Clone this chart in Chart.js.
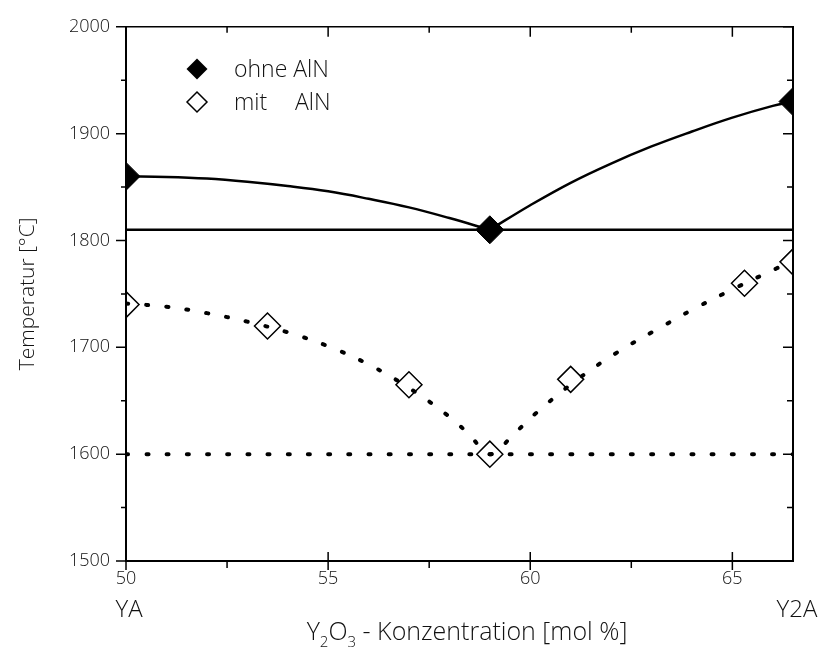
<!DOCTYPE html>
<html>
<head>
<meta charset="utf-8">
<script src="https://cdn.jsdelivr.net/npm/chart.js@4.4.1/dist/chart.umd.min.js"></script>
<style>
  html, body { margin: 0; padding: 0; background: #fff; }
  #wrap { width: 822px; height: 650px; }
</style>
</head>
<body>
<div id="wrap"><canvas id="chart" width="822" height="650"></canvas></div>
<script>
// axis ticks
const xTicks = [50, 55, 60, 65];
const xMinorTicks = [52.5, 57.5, 62.5];
const yTicks = [1500, 1600, 1700, 1800, 1900, 2000];
const yMinorTicks = [1550, 1650, 1750, 1850, 1950];
const xRange = [50, 66.5];
const yRange = [1500, 2000];

// measured points
const ohneX = [50, 59, 66.5];
const ohneY = [1860, 1810, 1930];
const mitX = [50, 53.5, 57, 59, 61, 65.3, 66.5];
const mitY = [1740, 1720, 1665, 1600, 1670, 1760, 1780];

// drawn curves
const ohneLeftX = [50, 51, 52, 53, 54, 55, 56, 57, 58, 59];
const ohneLeftY = [1860, 1859.5, 1858, 1855, 1851, 1846, 1839, 1831, 1821, 1810];
const ohneRightX = [59, 60, 61, 62, 63, 64, 65, 66, 66.5];
const ohneRightY = [1810, 1833, 1854, 1872, 1888, 1902, 1915, 1926, 1930];
const mitCurveX = [50, 51, 52, 53, 54, 55, 56, 57, 58, 58.5, 59, 59.6, 60.1, 61.1, 62.1, 63.1, 64.1, 65.1, 66.1, 66.5];
const mitCurveY = [1741, 1738, 1732, 1724, 1714, 1701, 1684, 1662, 1635, 1618, 1600, 1619, 1637, 1668, 1694, 1716, 1737, 1756, 1774, 1781];

// reference levels
const ohneLevel = 1810;
const mitLevel = 1600;

const FONT = '"Open Sans", "DejaVu Sans", sans-serif';
const TEXT = '#111';
const pts = (xs, ys) => xs.map((x, i) => ({ x: x, y: ys[i] }));

const extras = {
  id: 'extras',
  afterDraw(chart) {
    const ctx = chart.ctx;
    const a = chart.chartArea;
    const xs = chart.scales.x, ys = chart.scales.y;
    ctx.save();
    ctx.strokeStyle = '#000';
    ctx.lineWidth = 1.5;
    ctx.beginPath();
    yTicks.forEach(v => {
      const p = ys.getPixelForValue(v);
      ctx.moveTo(a.left - 10, p); ctx.lineTo(a.left, p);
      ctx.moveTo(a.right - 10, p); ctx.lineTo(a.right, p);
    });
    yMinorTicks.forEach(v => {
      const p = ys.getPixelForValue(v);
      ctx.moveTo(a.left - 5, p); ctx.lineTo(a.left, p);
      ctx.moveTo(a.right - 6, p); ctx.lineTo(a.right, p);
    });
    xTicks.forEach(v => {
      const p = xs.getPixelForValue(v);
      ctx.moveTo(p, a.bottom - 9); ctx.lineTo(p, a.bottom + 9);
      ctx.moveTo(p, a.top); ctx.lineTo(p, a.top + 10);
    });
    xMinorTicks.forEach(v => {
      const p = xs.getPixelForValue(v);
      ctx.moveTo(p, a.bottom); ctx.lineTo(p, a.bottom + 7);
      ctx.moveTo(p, a.top); ctx.lineTo(p, a.top + 6);
    });
    ctx.stroke();

    // legend
    ctx.fillStyle = '#000';
    ctx.lineWidth = 1.5;
    const lx = 197;
    ctx.beginPath();
    ctx.moveTo(lx - 10.5, 69); ctx.lineTo(lx, 58.5); ctx.lineTo(lx + 10.5, 69); ctx.lineTo(lx, 79.5);
    ctx.closePath(); ctx.fill();
    ctx.beginPath();
    ctx.moveTo(lx - 10, 102); ctx.lineTo(lx, 92); ctx.lineTo(lx + 10, 102); ctx.lineTo(lx, 112);
    ctx.closePath(); ctx.stroke();
    ctx.fillStyle = TEXT;
    ctx.font = '300 23px ' + FONT;
    ctx.textBaseline = 'middle';
    ctx.textAlign = 'left';
    ctx.fillText('ohne AlN', 234, 70);
    ctx.fillText('mit', 234, 103);
    ctx.fillText('AlN', 295, 103);

    // end member labels
    ctx.font = '300 24px ' + FONT;
    ctx.textAlign = 'center';
    ctx.fillText('YA', 129, 610);
    ctx.fillText('Y2A', 797, 610);

    // x axis title with subscripts
    const big = '300 25px ' + FONT, small = '300 15px ' + FONT;
    const parts = [['Y', big, 0], ['2', small, 7], ['O', big, 0], ['3', small, 7], [' - Konzentration [mol %]', big, 0]];
    let total = 0;
    parts.forEach(p => { ctx.font = p[1]; total += ctx.measureText(p[0]).width; });
    let cx = 467 - total / 2;
    ctx.textAlign = 'left';
    ctx.textBaseline = 'alphabetic';
    parts.forEach(p => {
      ctx.font = p[1];
      ctx.fillText(p[0], cx, 640 + p[2]);
      cx += ctx.measureText(p[0]).width;
    });
    ctx.restore();
  }
};

const lineDs = (data, dotted) => ({
  type: 'line',
  data: data,
  borderColor: '#000',
  borderWidth: dotted ? 4 : 2.5,
  borderDash: dotted ? [2, 18.2] : [],
  borderCapStyle: dotted ? 'round' : 'butt',
  pointRadius: 0,
  fill: false,
  tension: 0.4
});

new Chart(document.getElementById('chart'), {
  type: 'scatter',
  data: {
    datasets: [
      lineDs(pts(ohneLeftX, ohneLeftY), false),
      lineDs(pts(ohneRightX, ohneRightY), false),
      lineDs(pts(xRange, [ohneLevel, ohneLevel]), false),
      lineDs(pts(mitCurveX, mitCurveY), true),
      lineDs(pts(xRange, [mitLevel, mitLevel]), true),
      {
        label: 'ohne AlN',
        data: pts(ohneX, ohneY),
        pointStyle: 'rectRot',
        pointRadius: 14,
        backgroundColor: '#000',
        borderColor: '#000',
        borderWidth: 1
      },
      {
        label: 'mit AlN',
        data: pts(mitX, mitY),
        pointStyle: 'rectRot',
        pointRadius: 13,
        backgroundColor: 'rgba(0,0,0,0)',
        borderColor: '#000',
        borderWidth: 1.5
      }
    ]
  },
  options: {
    responsive: false,
    animation: false,
    layout: { padding: { top: 25, right: 29, left: 0, bottom: 0 } },
    plugins: { legend: { display: false }, tooltip: { enabled: false } },
    scales: {
      x: {
        type: 'linear', min: xRange[0], max: xRange[1],
        afterBuildTicks: s => { s.ticks = xTicks.map(v => ({ value: v })); },
        afterFit: s => { s.height = 89; },
        grid: { drawOnChartArea: false, drawTicks: false },
        border: { display: true, color: '#000', width: 2 },
        ticks: { padding: 7, color: TEXT, callback: v => String(v), font: { family: FONT, size: 18, weight: 300 } }
      },
      x2: {
        type: 'linear', position: 'top', min: xRange[0], max: xRange[1],
        afterFit: s => { s.height = 0; },
        grid: { drawOnChartArea: false, drawTicks: false },
        border: { display: true, color: '#000', width: 1.5 },
        ticks: { display: false }
      },
      y: {
        type: 'linear', min: yRange[0], max: yRange[1],
        afterBuildTicks: s => { s.ticks = yTicks.map(v => ({ value: v })); },
        afterFit: s => { s.width = 126; },
        grid: { drawOnChartArea: false, drawTicks: false },
        border: { display: true, color: '#000', width: 2 },
        ticks: { padding: 16, color: TEXT, callback: v => String(v), font: { family: FONT, size: 18, weight: 300 } },
        title: { display: true, text: 'Temperatur [°C]', color: TEXT, padding: { top: 15, bottom: 0 }, font: { family: FONT, size: 21, weight: 300 } }
      },
      y2: {
        type: 'linear', position: 'right', min: yRange[0], max: yRange[1],
        afterFit: s => { s.width = 0; },
        grid: { drawOnChartArea: false, drawTicks: false },
        border: { display: true, color: '#000', width: 2 },
        ticks: { display: false }
      }
    }
  },
  plugins: [extras]
});
</script>
</body>
</html>
